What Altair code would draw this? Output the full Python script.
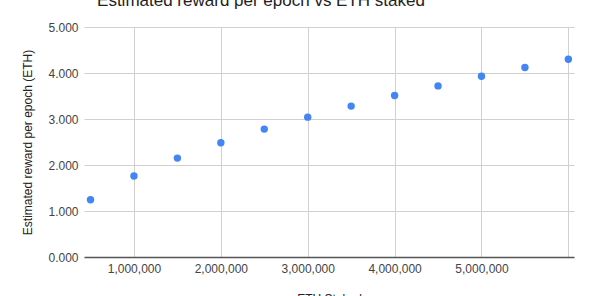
import altair as alt
import pandas as pd

eth_staked = [500000, 1000000, 1500000, 2000000, 2500000, 3000000,
              3500000, 4000000, 4500000, 5000000, 5500000, 6000000]
reward = [1.245, 1.76, 2.15, 2.485, 2.78, 3.04, 3.28, 3.51, 3.72, 3.93, 4.12, 4.30]
x_ticks = [1000000, 2000000, 3000000, 4000000, 5000000, 6000000]
y_ticks = [0, 1, 2, 3, 4, 5]
title_text = ["Estimated reward per epoch vs ETH staked"]

df = pd.DataFrame({"staked": eth_staked, "reward": reward})
FONT = "Liberation Sans"

points = alt.Chart(df).mark_circle(size=55, color="#4285F4", opacity=1).encode(
    x=alt.X("staked:Q",
            scale=alt.Scale(domain=[425000, 6065000], nice=False, zero=False),
            axis=alt.Axis(values=x_ticks, title="ETH Staked",
                          labelExpr="datum.value >= 6000000 ? '' : format(datum.value, ',')",
                          grid=True, gridColor="#d0d0d0", ticks=False,
                          domainColor="#555555", domainWidth=1.5,
                          labelFont=FONT, labelFontSize=12, labelColor="#444444",
                          labelPadding=6, titleFont=FONT, titleFontSize=12,
                          titleFontWeight="normal", titleColor="#222222",
                          titlePadding=19)),
    y=alt.Y("reward:Q",
            scale=alt.Scale(domain=[0, 5], nice=False),
            axis=alt.Axis(values=y_ticks, format=".3f",
                          title="Estimated reward per epoch (ETH)",
                          grid=True, gridColor="#d0d0d0", ticks=False, domain=False,
                          labelFont=FONT, labelFontSize=12, labelColor="#444444",
                          labelPadding=6, titleFont=FONT, titleFontSize=12,
                          titleFontWeight="normal", titleColor="#222222",
                          titlePadding=13)),
)

title = alt.Chart(pd.DataFrame({"t": title_text})).mark_text(
    font=FONT, fontSize=17, color="#222222", align="center", baseline="alphabetic"
).encode(text="t:N", x=alt.value(177), y=alt.value(-21))

chart = alt.layer(points, title).properties(
    width=490, height=230,
    autosize=alt.AutoSizeParams(type="none"),
    padding={"left": 84, "top": 27, "right": 18, "bottom": 39},
).configure_view(stroke=None)

chart.save("out.html", embed_options={"renderer": "svg", "actions": False})
